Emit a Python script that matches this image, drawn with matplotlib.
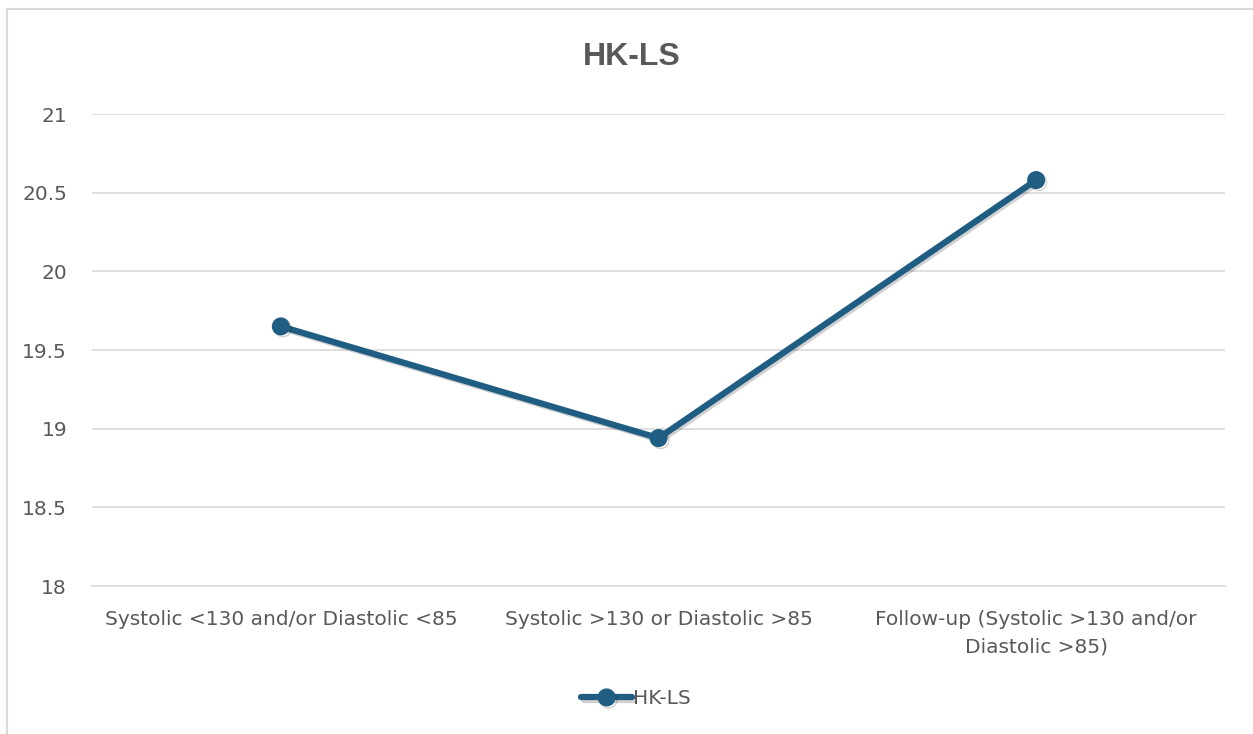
import matplotlib
matplotlib.use("Agg")
import matplotlib.pyplot as plt
from matplotlib.patches import Rectangle
import matplotlib.patheffects as pe

categories = ["Systolic <130 and/or Diastolic <85",
              "Systolic >130 or Diastolic >85",
              "Follow-up (Systolic >130 and/or\nDiastolic >85)"]
values = [19.65, 18.94, 20.58]
series_name = "HK-LS"
title = "HK-LS"
yticks = [18, 18.5, 19, 19.5, 20, 20.5, 21]
ytick_labels = ["18", "18.5", "19", "19.5", "20", "20.5", "21"]

plt.rcParams['font.family'] = ['DejaVu Sans']
text_color = '#595959'
line_color = '#1f5d82'
grid_color = '#d9d9d9'

fig = plt.figure(figsize=(12.53, 7.34), dpi=100)
fig.patches.append(Rectangle((7/1253, -0.1), 1.2, 1 - 9/734 + 0.1,
                             transform=fig.transFigure, fill=False,
                             edgecolor=grid_color, linewidth=1.5))
ax = fig.add_axes([92/1253, 1 - 586/734, (1225 - 92)/1253, (586 - 114)/734])

x = list(range(len(categories)))
shadow = [pe.SimpleLineShadow(offset=(1.5, -1.5), alpha=0.18, shadow_color='black'), pe.Normal()]
line, = ax.plot(x, values, color=line_color, linewidth=4.5, marker='o',
                markersize=12, markerfacecolor=line_color, markeredgecolor=line_color,
                solid_capstyle='round', label=series_name, zorder=3,
                path_effects=shadow)

ax.set_xlim(-0.5, len(categories) - 0.5)
ax.set_ylim(18, 21)
ax.set_yticks(yticks)
ax.set_yticklabels(ytick_labels)
ax.set_xticks(x)
ax.set_xticklabels(categories, linespacing=1.6)
ax.grid(axis='y', color=grid_color, linewidth=1.2)
ax.set_axisbelow(True)
for s in ax.spines.values():
    s.set_visible(False)
ax.spines['bottom'].set_visible(True)
ax.spines['bottom'].set_color(grid_color)
ax.spines['bottom'].set_linewidth(1.2)
ax.tick_params(axis='both', length=0, labelsize=14.5, colors=text_color)
ax.tick_params(axis='y', pad=18)
ax.tick_params(axis='x', pad=17)

fig.text(632/1253, 1 - 57/734, title, ha='center', va='center',
         fontsize=23, fontweight='bold', color=text_color,
         family=['Liberation Sans', 'DejaVu Sans'])

leg = fig.legend(handles=[line], loc='center', bbox_to_anchor=(636/1253, 1 - 699/734),
                 frameon=False, fontsize=14.5, handlelength=2.5, handletextpad=0.05,
                 labelcolor=text_color)

fig.savefig("out.png", dpi=100)
